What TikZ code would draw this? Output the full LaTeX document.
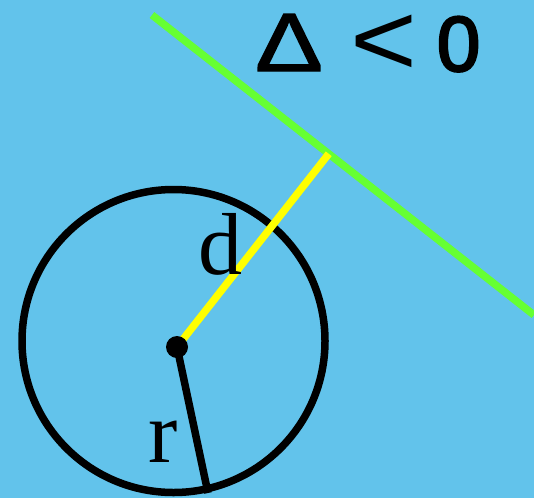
\documentclass[tikz,border=0pt]{standalone}
\usepackage{fontspec}
\setmainfont{Liberation Serif}
\newfontfamily\labsans{Liberation Sans}
\newfontfamily\labsansfb{Liberation Sans}[FakeBold=1.5]
\newfontfamily\labsansfbb{Liberation Sans}[FakeBold=3]
\usetikzlibrary{calc}
\definecolor{bgblue}{RGB}{98,195,235}
\definecolor{lgreen}{RGB}{102,255,51}
\definecolor{lyellow}{RGB}{255,255,0}
\begin{document}
\begin{tikzpicture}[x=1pt,y=-1pt,
  thickline/.style={line width=7.5pt},
  lbl/.style={inner sep=0pt,anchor=base west,font=\fontsize{88}{90}\selectfont}]
\fill[bgblue] (0,0) rectangle (534,498);
\useasboundingbox (0,0) rectangle (534,498);
\coordinate (c) at (173.5,341);
\coordinate (o) at (177,347);
\coordinate (g1) at (152,15);
\coordinate (g2) at (534,315);
\coordinate (rend) at (208,493);
\coordinate (foot) at ($(g1)!(o)!(g2)$);
\draw[thickline] (c) circle (151.5pt);
\draw[thickline,lgreen] (g1) -- (g2);
\draw[thickline,lyellow] (o) -- (foot);
\draw[thickline] (o) -- (rend);
\fill (o) circle (11pt);
\node[lbl] (d) at (198,274) {d};
\node[lbl] (r) at (148,462) {r};
\node[inner sep=0pt,anchor=base west,font=\fontsize{78}{80}\selectfont] (delta) at (255,71)
  {{\labsansfb\scalebox{1.3}[1.06]{Δ}}\hspace{28pt}\raisebox{-4pt}{\labsans\scalebox{1.47}[1.33]{<}}\hspace{19pt}{\labsansfbb 0}};
\end{tikzpicture}
\end{document}
